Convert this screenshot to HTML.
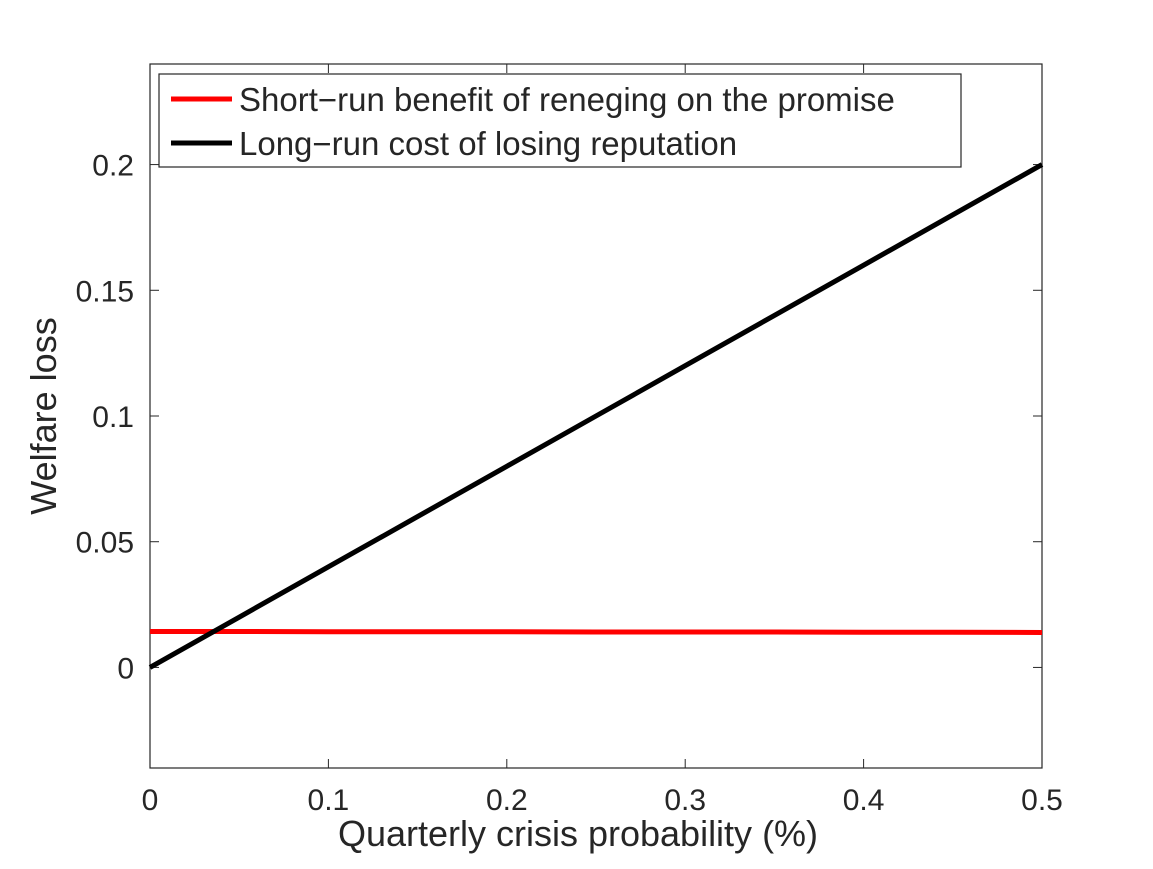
<!DOCTYPE html>
<html><head><meta charset="utf-8"><style>
body{margin:0;background:#fff;}
svg text{font-family:"Liberation Sans",sans-serif;fill:#262626;}
</style></head><body>
<svg width="1153" height="864" id="c">
</svg>
<script>
const xValues=[0,0.05,0.1,0.15,0.2,0.25,0.3,0.35,0.4,0.45,0.5];
const shortRun=[0.0143,0.0143,0.0142,0.0142,0.0142,0.0141,0.0141,0.0141,0.0140,0.0140,0.0139];
const longRun=[0,0.02,0.04,0.06,0.08,0.1,0.12,0.14,0.16,0.18,0.2];
const xTicks=[0,0.1,0.2,0.3,0.4,0.5];
const yTicks=[0,0.05,0.1,0.15,0.2];
const xTickLabels=["0","0.1","0.2","0.3","0.4","0.5"];
const yTickLabels=["0","0.05","0.1","0.15","0.2"];
const L=150,R=1042,T=64,B=768,xmin=0,xmax=0.5,ymin=-0.04,ymax=0.24;
const sx=v=>L+(v-xmin)/(xmax-xmin)*(R-L);
const sy=v=>B-(v-ymin)/(ymax-ymin)*(B-T);
const svg=document.getElementById('c');
const NS='http://www.w3.org/2000/svg';
function mk(tag,attrs,parent){const e=document.createElementNS(NS,tag);for(const k in attrs)e.setAttribute(k,attrs[k]);(parent||svg).appendChild(e);return e;}
let e=mk('rect',{x:L,y:T,width:R-L,height:B-T,fill:'#fff',stroke:'#262626','stroke-width':1.2});


xTicks.forEach((v,i)=>{
 mk('line',{x1:sx(v),x2:sx(v),y1:B,y2:B-9,stroke:'#262626'});
 mk('line',{x1:sx(v),x2:sx(v),y1:T,y2:T+9,stroke:'#262626'});
 const t=mk('text',{x:sx(v),y:B+42,'text-anchor':'middle','font-size':30});t.textContent=xTickLabels[i];
 
 
});
yTicks.forEach((v,i)=>{
 mk('line',{x1:L,x2:L+9,y1:sy(v),y2:sy(v),stroke:'#262626'});
 mk('line',{x1:R,x2:R-9,y1:sy(v),y2:sy(v),stroke:'#262626'});
 const t=mk('text',{x:L-16,y:sy(v)+11,'text-anchor':'end','font-size':30});t.textContent=yTickLabels[i];
 
 
});
function line(vals,color,name){
 const p=mk('polyline',{points:xValues.map((x,i)=>sx(x)+','+sy(vals[i])).join(' '),fill:'none',stroke:color,'stroke-width':5});
 
 
}
line(shortRun,'#ff0000','short-run-benefit-line');
line(longRun,'#000000','long-run-cost-line');
let xl=mk('text',{x:578,y:846,'text-anchor':'middle','font-size':36});xl.textContent='Quarterly crisis probability (%)';


let yl=mk('text',{x:0,y:0,'text-anchor':'middle','font-size':36,transform:'translate(56,416) rotate(-90)'});yl.textContent='Welfare loss';


let lg=mk('g',{});


mk('rect',{x:159,y:74,width:802,height:93,fill:'#fff',stroke:'#262626','stroke-width':1.2},lg);
mk('line',{x1:171,x2:232,y1:99,y2:99,stroke:'#ff0000','stroke-width':5},lg);
mk('line',{x1:171,x2:232,y1:143,y2:143,stroke:'#000','stroke-width':5},lg);
let t1=mk('text',{x:239,y:111,'font-size':33},lg);t1.textContent='Short\u2212run benefit of reneging on the promise';


let t2=mk('text',{x:239,y:155,'font-size':33},lg);t2.textContent='Long\u2212run cost of losing reputation';


</script>
</body></html>
